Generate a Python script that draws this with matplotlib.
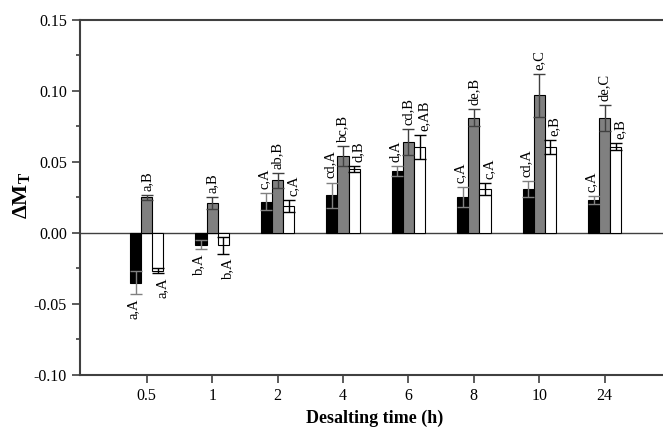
import numpy as np
import matplotlib
matplotlib.use("Agg")
import matplotlib.pyplot as plt
from matplotlib.ticker import MultipleLocator

plt.rcParams['font.family'] = ['Liberation Serif', 'DejaVu Serif']
plt.rcParams['mathtext.fontset'] = 'custom'
plt.rcParams['mathtext.rm'] = 'Liberation Serif'
plt.rcParams['mathtext.bf'] = 'Liberation Serif:bold'

# desalting times
times = ['0.5', '1', '2', '4', '6', '8', '10', '24']

# three treatments: black, gray, white bars
black_vals = [-0.035, -0.0082, 0.022, 0.0265, 0.0434, 0.0254, 0.0308, 0.0232]
black_err = [0.008, 0.003, 0.006, 0.009, 0.0035, 0.0068, 0.0058, 0.003]
gray_vals = [0.025, 0.021, 0.037, 0.0544, 0.0639, 0.081, 0.097, 0.081]
gray_err = [0.0018, 0.004, 0.005, 0.007, 0.009, 0.006, 0.015, 0.009]
white_vals = [-0.0265, -0.0085, 0.019, 0.045, 0.0606, 0.031, 0.0606, 0.0606]
white_err = [0.0018, 0.006, 0.004, 0.0024, 0.0082, 0.0042, 0.005, 0.0025]

black_lab = ['a,A', 'b,A', 'c,A', 'cd,A', 'd,A', 'c,A', 'cd,A', 'c,A']
gray_lab = ['a,B', 'a,B', 'ab,B', 'bc,B', 'cd,B', 'de,B', 'e,C', 'de,C']
white_lab = ['a,A', 'b,A', 'c,A', 'd,B', 'e,AB', 'c,A', 'e,B', 'e,B']

fig = plt.figure(figsize=(6.63, 4.29), dpi=100)
ax = fig.add_axes([0.1207, 0.1259, 0.888, 0.8275])

x = np.arange(len(times))
w = 0.17
# values, errors, labels, face colour, error colour, bar offset, label shift (pt)
series = [
    (black_vals, black_err, black_lab, 'black', '#808080', -w, -1.5),
    (gray_vals, gray_err, gray_lab, '#808080', '#404040', 0, 0),
    (white_vals, white_err, white_lab, 'white', 'black', w, 3),
]

for vals, errs, labs, fc, ec, off, dx in series:
    ax.bar(x + off, vals, w, color=fc, edgecolor='black', linewidth=0.8, zorder=2)
    ax.errorbar(x + off, vals, yerr=errs, fmt='none', ecolor=ec,
                elinewidth=1, capsize=4, capthick=1, zorder=3)
    for xi, v, e, t in zip(x + off, vals, errs, labs):
        if v >= 0:
            ax.annotate(t, (xi, v + e), xytext=(dx, 3), textcoords='offset points',
                        rotation=90, ha='center', va='bottom', fontsize=10.5)
        else:
            ax.annotate(t, (xi, v - e), xytext=(dx, -3), textcoords='offset points',
                        rotation=90, ha='center', va='top', fontsize=10.5)

ax.axhline(0, color='#404040', linewidth=1, zorder=1)

ax.set_xlim(-1.02, 7.98)
ax.set_ylim(-0.10, 0.15)
ax.set_xticks(x)
ax.set_xticklabels(times)
ax.yaxis.set_major_locator(MultipleLocator(0.05))
ax.yaxis.set_minor_locator(MultipleLocator(0.025))
ax.set_yticklabels(['%.2f' % t for t in ax.get_yticks()])

ax.tick_params(axis='both', which='major', direction='out', length=6,
               width=1.2, color='#404040', labelsize=11.5)
ax.tick_params(axis='y', which='minor', direction='out', length=3,
               width=1.2, color='#404040')

for s in ['left', 'top', 'bottom']:
    ax.spines[s].set_color('#404040')
    ax.spines[s].set_linewidth(1.5)
ax.spines['right'].set_visible(False)

ax.set_xlabel('Desalting time (h)', fontsize=13, fontweight='bold', labelpad=4)
ax.set_ylabel(r'$\mathbf{\Delta M}_\mathbf{T}$', fontsize=16)
ax.yaxis.set_label_coords(-0.08, 0.505)

fig.savefig('out.png', dpi=100)
